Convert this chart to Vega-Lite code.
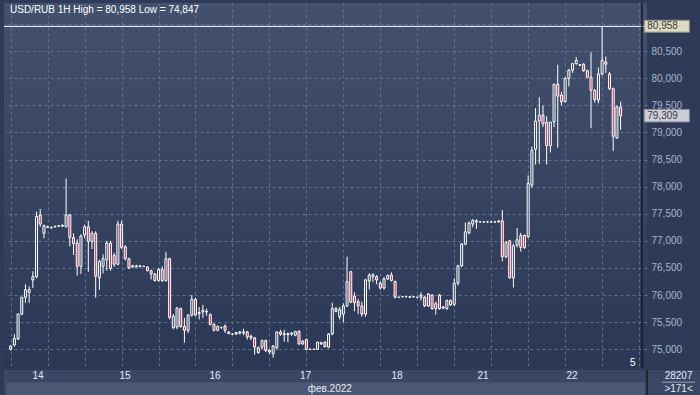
{
  "$schema": "https://vega.github.io/schema/vega-lite/v6.json",
  "background": "#2e3a57",
  "padding": {"left": 3, "top": 2, "right": 0, "bottom": 1},
  "config": {
    "concat": {"spacing": 0},
    "view": {"stroke": null},
    "font": "Liberation Sans, Arial",
    "text": {"font": "Liberation Sans, Arial"},
    "axis": {"labelFont": "Liberation Sans, Arial"},
    "axisX": {"values": [8.6, 31.77, 55.74, 79.84, 104.2, 127.1, 150.8], "labels": false, "ticks": false, "domain": false, "grid": true, "gridColor": "#617090", "gridDash": [3, 3], "gridWidth": 1, "gridOpacity": 1, "title": null},
    "axisY": {"values": [75, 75.5, 76, 76.5, 77, 77.5, 78, 78.5, 79, 79.5, 80, 80.5, 81], "labelOverlap": false, "labelBound": false, "labelFlush": false, "ticks": false, "domain": false, "labelPadding": 4, "labelAlign": "left", "labelBaseline": "middle", "labelColor": "#a6b5d0", "labelFontSize": 10, "grid": true, "gridColor": "#617090", "gridDash": [3, 3], "gridOpacity": 1, "title": null}
  },
  "resolve": {"scale": {"x": "independent"}},
  "datasets": {
    "candles": [
      {"i":0,"o":75.00,"h":75.08,"l":74.98,"c":75.06},
      {"i":1,"o":75.08,"h":75.28,"l":75.05,"c":75.20},
      {"i":2,"o":75.19,"h":75.66,"l":75.17,"c":75.65},
      {"i":3,"o":75.65,"h":75.97,"l":75.63,"c":75.96},
      {"i":4,"o":75.96,"h":76.20,"l":75.86,"c":76.10},
      {"i":5,"o":76.05,"h":76.16,"l":75.86,"c":76.10},
      {"i":6,"o":76.28,"h":76.44,"l":76.13,"c":76.34},
      {"i":7,"o":76.34,"h":77.54,"l":76.31,"c":77.45},
      {"i":8,"o":77.48,"h":77.59,"l":77.26,"c":77.31},
      {"i":9,"o":77.14,"h":77.30,"l":77.05,"c":77.28},
      {"i":10,"o":77.26,"h":77.28,"l":77.24,"c":77.25},
      {"i":11,"o":77.25,"h":77.26,"l":77.22,"c":77.25},
      {"i":12,"o":77.26,"h":77.28,"l":77.25,"c":77.27},
      {"i":13,"o":77.27,"h":77.29,"l":77.26,"c":77.28},
      {"i":14,"o":77.27,"h":77.30,"l":77.26,"c":77.29},
      {"i":15,"o":77.26,"h":78.15,"l":77.25,"c":77.48},
      {"i":16,"o":77.48,"h":77.50,"l":76.90,"c":77.06},
      {"i":17,"o":77.06,"h":77.14,"l":76.74,"c":76.95},
      {"i":18,"o":76.96,"h":77.03,"l":76.36,"c":76.53},
      {"i":19,"o":76.53,"h":77.12,"l":76.39,"c":77.09},
      {"i":20,"o":77.11,"h":77.30,"l":77.05,"c":77.26},
      {"i":21,"o":77.26,"h":77.37,"l":76.43,"c":76.99},
      {"i":22,"o":76.99,"h":77.18,"l":76.85,"c":77.14},
      {"i":23,"o":77.14,"h":77.18,"l":75.95,"c":76.35},
      {"i":24,"o":76.32,"h":76.65,"l":76.10,"c":76.62},
      {"i":25,"o":76.53,"h":76.75,"l":76.40,"c":76.67},
      {"i":26,"o":76.65,"h":77.00,"l":76.45,"c":76.96},
      {"i":27,"o":76.96,"h":77.00,"l":76.45,"c":76.49},
      {"i":28,"o":76.73,"h":76.78,"l":76.52,"c":76.57},
      {"i":29,"o":76.57,"h":77.37,"l":76.55,"c":77.31},
      {"i":30,"o":77.31,"h":77.37,"l":76.85,"c":76.88},
      {"i":31,"o":76.89,"h":76.92,"l":76.64,"c":76.67},
      {"i":32,"o":76.67,"h":76.69,"l":76.48,"c":76.50},
      {"i":33,"o":76.52,"h":76.56,"l":76.50,"c":76.54},
      {"i":34,"o":76.52,"h":76.56,"l":76.51,"c":76.54},
      {"i":35,"o":76.53,"h":76.55,"l":76.51,"c":76.54},
      {"i":36,"o":76.53,"h":76.54,"l":76.52,"c":76.53},
      {"i":37,"o":76.52,"h":76.53,"l":76.44,"c":76.45},
      {"i":38,"o":76.45,"h":76.47,"l":76.29,"c":76.39},
      {"i":39,"o":76.39,"h":76.41,"l":76.25,"c":76.27},
      {"i":40,"o":76.27,"h":76.50,"l":76.25,"c":76.47},
      {"i":41,"o":76.47,"h":76.53,"l":76.24,"c":76.27},
      {"i":42,"o":76.27,"h":76.80,"l":76.25,"c":76.67},
      {"i":43,"o":76.67,"h":76.69,"l":75.55,"c":75.59},
      {"i":44,"o":75.40,"h":75.65,"l":75.37,"c":75.61},
      {"i":45,"o":75.41,"h":75.78,"l":75.37,"c":75.76},
      {"i":46,"o":75.75,"h":75.77,"l":75.40,"c":75.42},
      {"i":47,"o":75.42,"h":75.58,"l":75.12,"c":75.35},
      {"i":48,"o":75.35,"h":75.65,"l":75.30,"c":75.63},
      {"i":49,"o":75.63,"h":76.00,"l":75.60,"c":75.92},
      {"i":50,"o":75.92,"h":75.95,"l":75.62,"c":75.63},
      {"i":51,"o":75.66,"h":75.78,"l":75.55,"c":75.68},
      {"i":52,"o":75.69,"h":75.82,"l":75.58,"c":75.72},
      {"i":53,"o":75.69,"h":75.75,"l":75.62,"c":75.70},
      {"i":54,"o":75.64,"h":75.66,"l":75.44,"c":75.46},
      {"i":55,"o":75.46,"h":75.48,"l":75.33,"c":75.35},
      {"i":56,"o":75.35,"h":75.44,"l":75.33,"c":75.42},
      {"i":57,"o":75.40,"h":75.42,"l":75.38,"c":75.40},
      {"i":58,"o":75.43,"h":75.46,"l":75.30,"c":75.35},
      {"i":59,"o":75.32,"h":75.33,"l":75.28,"c":75.29},
      {"i":60,"o":75.28,"h":75.29,"l":75.27,"c":75.28},
      {"i":61,"o":75.28,"h":75.32,"l":75.27,"c":75.31},
      {"i":62,"o":75.30,"h":75.34,"l":75.27,"c":75.32},
      {"i":63,"o":75.30,"h":75.38,"l":75.26,"c":75.32},
      {"i":64,"o":75.32,"h":75.34,"l":75.18,"c":75.23},
      {"i":65,"o":75.24,"h":75.27,"l":75.17,"c":75.21},
      {"i":66,"o":75.21,"h":75.23,"l":74.90,"c":75.04},
      {"i":67,"o":75.03,"h":75.05,"l":74.92,"c":74.94},
      {"i":68,"o":75.04,"h":75.18,"l":75.00,"c":75.16},
      {"i":69,"o":75.16,"h":75.18,"l":74.95,"c":74.98},
      {"i":70,"o":74.98,"h":75.00,"l":74.91,"c":74.95},
      {"i":71,"o":74.92,"h":75.08,"l":74.847,"c":75.06},
      {"i":72,"o":75.03,"h":75.33,"l":74.99,"c":75.32},
      {"i":73,"o":75.32,"h":75.36,"l":75.25,"c":75.28},
      {"i":74,"o":75.27,"h":75.36,"l":75.14,"c":75.29},
      {"i":75,"o":75.27,"h":75.31,"l":75.13,"c":75.29},
      {"i":76,"o":75.28,"h":75.32,"l":75.25,"c":75.30},
      {"i":77,"o":75.26,"h":75.34,"l":75.24,"c":75.33},
      {"i":78,"o":75.33,"h":75.35,"l":75.08,"c":75.10},
      {"i":79,"o":75.10,"h":75.17,"l":75.08,"c":75.15},
      {"i":80,"o":75.18,"h":75.20,"l":74.98,"c":75.00},
      {"i":81,"o":75.00,"h":75.01,"l":74.99,"c":75.00},
      {"i":82,"o":75.00,"h":75.01,"l":74.99,"c":75.00},
      {"i":83,"o":75.00,"h":75.14,"l":74.99,"c":75.13},
      {"i":84,"o":75.10,"h":75.14,"l":75.08,"c":75.12},
      {"i":85,"o":75.13,"h":75.15,"l":75.03,"c":75.05},
      {"i":86,"o":75.04,"h":75.30,"l":75.02,"c":75.28},
      {"i":87,"o":75.28,"h":75.86,"l":75.26,"c":75.75},
      {"i":88,"o":75.75,"h":75.78,"l":75.68,"c":75.70},
      {"i":89,"o":75.60,"h":75.78,"l":75.55,"c":75.73},
      {"i":90,"o":75.65,"h":75.85,"l":75.50,"c":75.80},
      {"i":91,"o":75.80,"h":76.71,"l":75.78,"c":76.25},
      {"i":92,"o":76.43,"h":76.45,"l":75.85,"c":75.87},
      {"i":93,"o":75.98,"h":76.05,"l":75.70,"c":75.86},
      {"i":94,"o":75.88,"h":75.93,"l":75.65,"c":75.80},
      {"i":95,"o":75.80,"h":75.88,"l":75.60,"c":75.65},
      {"i":96,"o":75.65,"h":76.30,"l":75.60,"c":76.28},
      {"i":97,"o":76.26,"h":76.40,"l":76.10,"c":76.37},
      {"i":98,"o":76.34,"h":76.40,"l":76.24,"c":76.38},
      {"i":99,"o":76.34,"h":76.37,"l":76.20,"c":76.28},
      {"i":100,"o":76.22,"h":76.25,"l":76.10,"c":76.13},
      {"i":101,"o":76.13,"h":76.33,"l":76.10,"c":76.30},
      {"i":102,"o":76.30,"h":76.38,"l":76.28,"c":76.36},
      {"i":103,"o":76.37,"h":76.42,"l":76.25,"c":76.27},
      {"i":104,"o":76.25,"h":76.27,"l":75.94,"c":75.96},
      {"i":105,"o":75.96,"h":75.97,"l":75.95,"c":75.96},
      {"i":106,"o":75.97,"h":75.98,"l":75.96,"c":75.97},
      {"i":107,"o":75.97,"h":75.98,"l":75.96,"c":75.97},
      {"i":108,"o":75.96,"h":75.98,"l":75.95,"c":75.97},
      {"i":109,"o":75.97,"h":75.98,"l":75.96,"c":75.97},
      {"i":110,"o":75.96,"h":75.97,"l":75.95,"c":75.96},
      {"i":111,"o":75.96,"h":76.05,"l":75.90,"c":76.00},
      {"i":112,"o":75.96,"h":75.98,"l":75.78,"c":75.80},
      {"i":113,"o":75.80,"h":76.04,"l":75.78,"c":76.02},
      {"i":114,"o":76.00,"h":76.02,"l":75.73,"c":75.75},
      {"i":115,"o":75.75,"h":75.88,"l":75.64,"c":75.84},
      {"i":116,"o":76.00,"h":76.02,"l":75.73,"c":75.75},
      {"i":117,"o":75.76,"h":75.80,"l":75.74,"c":75.78},
      {"i":118,"o":75.75,"h":75.92,"l":75.73,"c":75.90},
      {"i":119,"o":75.90,"h":75.92,"l":75.80,"c":75.82},
      {"i":120,"o":75.83,"h":76.31,"l":75.80,"c":76.22},
      {"i":121,"o":76.22,"h":76.56,"l":76.18,"c":76.54},
      {"i":122,"o":76.54,"h":76.96,"l":76.52,"c":76.94},
      {"i":123,"o":76.94,"h":77.34,"l":76.92,"c":77.17},
      {"i":124,"o":77.15,"h":77.36,"l":77.12,"c":77.33},
      {"i":125,"o":77.31,"h":77.40,"l":77.25,"c":77.38},
      {"i":126,"o":77.35,"h":77.40,"l":77.22,"c":77.37},
      {"i":127,"o":77.35,"h":77.36,"l":77.34,"c":77.35},
      {"i":128,"o":77.35,"h":77.36,"l":77.34,"c":77.35},
      {"i":129,"o":77.35,"h":77.36,"l":77.34,"c":77.35},
      {"i":130,"o":77.35,"h":77.36,"l":77.34,"c":77.35},
      {"i":131,"o":77.35,"h":77.36,"l":77.34,"c":77.35},
      {"i":132,"o":77.35,"h":77.38,"l":77.34,"c":77.37},
      {"i":133,"o":77.37,"h":77.57,"l":76.62,"c":76.71},
      {"i":134,"o":76.71,"h":77.00,"l":76.68,"c":76.97},
      {"i":135,"o":77.00,"h":77.02,"l":76.30,"c":76.32},
      {"i":136,"o":76.32,"h":76.95,"l":76.14,"c":76.91},
      {"i":137,"o":76.92,"h":77.24,"l":76.88,"c":77.02},
      {"i":138,"o":77.10,"h":77.15,"l":76.80,"c":76.88},
      {"i":139,"o":77.10,"h":77.12,"l":76.85,"c":76.88},
      {"i":140,"o":77.08,"h":78.21,"l":77.05,"c":78.06},
      {"i":141,"o":78.03,"h":78.74,"l":77.98,"c":78.67},
      {"i":142,"o":78.69,"h":79.45,"l":78.41,"c":79.21},
      {"i":143,"o":79.21,"h":79.65,"l":78.42,"c":79.32},
      {"i":144,"o":79.32,"h":79.50,"l":79.10,"c":79.16},
      {"i":145,"o":79.19,"h":79.30,"l":78.41,"c":78.76},
      {"i":146,"o":78.76,"h":79.20,"l":78.63,"c":79.19},
      {"i":147,"o":79.20,"h":79.90,"l":79.10,"c":79.89},
      {"i":148,"o":79.89,"h":80.25,"l":78.72,"c":79.67},
      {"i":149,"o":79.69,"h":79.75,"l":79.50,"c":79.57},
      {"i":150,"o":79.57,"h":80.02,"l":79.55,"c":80.00},
      {"i":151,"o":80.00,"h":80.17,"l":79.85,"c":80.15},
      {"i":152,"o":80.15,"h":80.28,"l":80.10,"c":80.27},
      {"i":153,"o":80.27,"h":80.39,"l":80.25,"c":80.33},
      {"i":154,"o":80.25,"h":80.26,"l":80.23,"c":80.24},
      {"i":155,"o":80.26,"h":80.28,"l":80.12,"c":80.14},
      {"i":156,"o":80.14,"h":80.16,"l":80.00,"c":80.02},
      {"i":157,"o":80.02,"h":80.48,"l":79.08,"c":79.78},
      {"i":158,"o":79.78,"h":79.80,"l":79.55,"c":79.61},
      {"i":159,"o":79.60,"h":80.20,"l":79.54,"c":80.08},
      {"i":160,"o":80.08,"h":80.958,"l":80.05,"c":80.33},
      {"i":161,"o":80.30,"h":80.40,"l":80.10,"c":80.26},
      {"i":162,"o":80.08,"h":80.12,"l":79.78,"c":79.81},
      {"i":163,"o":79.81,"h":79.83,"l":78.66,"c":78.93},
      {"i":164,"o":78.90,"h":79.50,"l":78.88,"c":79.47},
      {"i":165,"o":79.47,"h":79.57,"l":79.05,"c":79.309}
    ],
    "days": [
      {"i":8.6,"d":"14"},{"i":31.77,"d":"15"},{"i":55.74,"d":"16"},{"i":79.84,"d":"17"},
      {"i":104.2,"d":"18"},{"i":127.1,"d":"21"},{"i":150.8,"d":"22"}
    ]
  },
  "vconcat": [
    {
      "width": 643,
      "height": 365,
      "view": {"stroke": null, "fill": {"gradient": "linear", "x1": 0, "y1": 0, "x2": 0, "y2": 1, "stops": [{"offset": 0, "color": "#44516e"}, {"offset": 1, "color": "#2a3755"}]}},
      "layer": [
        {
          "data": {"name": "candles"},
          "mark": {"type": "rule", "color": "#ffffff", "strokeWidth": 1},
          "encoding": {
            "x": {"field": "i", "type": "quantitative", "scale": {"domain": [-0.453, 170.79], "nice": false, "zero": false}},
            "y": {"field": "l", "type": "quantitative", "scale": {"domain": [74.655, 81.389], "nice": false, "zero": false},
              "axis": {"orient": "right", "labelExpr": "datum.value >= 81 ? '' : replace(format(datum.value, '.3f'), '.', ',')"}},
            "y2": {"field": "h"}
          }
        },
        {
          "data": {"name": "candles"},
          "mark": {"type": "bar", "width": 2, "stroke": "#ffffff", "strokeWidth": 1},
          "encoding": {
            "x": {"field": "i", "type": "quantitative"},
            "y": {"field": "o", "type": "quantitative", "axis": {"orient": "right", "labelExpr": "datum.value >= 81 ? '' : replace(format(datum.value, '.3f'), '.', ',')"}},
            "y2": {"field": "c"},
            "fill": {"condition": {"test": "datum.c < datum.o", "value": "#c3324e"}, "value": "#35425f"}
          }
        },
        {
          "data": {"values": [{}]},
          "mark": {"type": "rule", "color": "#ffffff", "strokeWidth": 1},
          "encoding": {"y": {"datum": 80.958, "type": "quantitative", "axis": {"orient": "right", "labelExpr": "datum.value >= 81 ? '' : replace(format(datum.value, '.3f'), '.', ',')"}}}
        },
        {
          "data": {"values": [{}]},
          "mark": {"type": "rule", "color": "#141b2b", "strokeWidth": 1.5},
          "encoding": {"x": {"datum": 170.79, "type": "quantitative"}}
        },
        {
          "data": {"values": [{"t": "USD/RUB 1H High = 80,958 Low = 74,847"}]},
          "mark": {"type": "text", "align": "left", "baseline": "top", "dx": 1, "dy": 2, "color": "#ffffff", "fontSize": 10},
          "encoding": {"x": {"datum": -0.453, "type": "quantitative"}, "y": {"datum": 81.389, "type": "quantitative", "axis": {"orient": "right", "labelExpr": "datum.value >= 81 ? '' : replace(format(datum.value, '.3f'), '.', ',')"}}, "text": {"field": "t"}}
        },
        {
          "data": {"values": [{}]},
          "mark": {"type": "rect", "fill": "#dcdcc2", "stroke": "#8e8e80", "strokeWidth": 1},
          "encoding": {"x": {"datum": 171.4, "type": "quantitative"}, "x2": {"datum": 183.6}, "y": {"datum": 80.85, "type": "quantitative", "axis": {"orient": "right", "labelExpr": "datum.value >= 81 ? '' : replace(format(datum.value, '.3f'), '.', ',')"}}, "y2": {"datum": 81.07}}
        },
        {
          "data": {"values": [{}]},
          "mark": {"type": "rect", "fill": "#c9ced8", "stroke": "#8a909c", "strokeWidth": 1},
          "encoding": {"x": {"datum": 171.4, "type": "quantitative"}, "x2": {"datum": 183.6}, "y": {"datum": 79.195, "type": "quantitative", "axis": {"orient": "right", "labelExpr": "datum.value >= 81 ? '' : replace(format(datum.value, '.3f'), '.', ',')"}}, "y2": {"datum": 79.425}}
        },
        {
          "data": {"values": [{"p": 80.958, "t": "80,958"}, {"p": 79.309, "t": "79,309"}]},
          "mark": {"type": "text", "align": "left", "baseline": "middle", "dx": 3, "color": "#3a3a3a", "fontSize": 10},
          "encoding": {"x": {"datum": 171.4, "type": "quantitative"}, "y": {"field": "p", "type": "quantitative", "axis": {"orient": "right", "labelExpr": "datum.value >= 81 ? '' : replace(format(datum.value, '.3f'), '.', ',')"}}, "text": {"field": "t"}}
        },
        {
          "data": {"values": [{"t": "5"}]},
          "mark": {"type": "text", "align": "center", "baseline": "middle", "color": "#ffffff", "fontSize": 10},
          "encoding": {"x": {"datum": 168.3, "type": "quantitative"}, "y": {"datum": 74.75, "type": "quantitative", "axis": {"orient": "right", "labelExpr": "datum.value >= 81 ? '' : replace(format(datum.value, '.3f'), '.', ',')"}}, "text": {"field": "t"}}
        }
      ]
    },
    {
      "width": 697,
      "height": 27,
      "view": {"stroke": null, "fill": "#3a4764"},
      "layer": [
        {
          "data": {"values": [{}]},
          "mark": {"type": "rect", "color": "#4b5773"},
          "encoding": {
            "x": {"datum": 0.1, "type": "quantitative", "scale": {"domain": [-0.453, 185.17], "nice": false, "zero": false}, "axis": null},
            "x2": {"datum": 170.3},
            "y": {"datum": 0.07, "type": "quantitative", "scale": {"domain": [0, 1], "nice": false}, "axis": null},
            "y2": {"datum": 0.55}
          }
        },
        {
          "data": {"values": [{}]},
          "mark": {"type": "rule", "color": "#141b2b", "strokeWidth": 1.5},
          "encoding": {"x": {"datum": 170.79, "type": "quantitative", "axis": null}}
        },
        {
          "data": {"values": [{}]},
          "mark": {"type": "rule", "color": "#9aa4b8", "strokeWidth": 1},
          "encoding": {"x": {"datum": 174.8, "type": "quantitative", "axis": null}, "x2": {"datum": 183.6}, "y": {"datum": 0.55, "type": "quantitative", "axis": null}}
        },
        {
          "data": {"name": "days"},
          "mark": {"type": "text", "align": "center", "baseline": "middle", "color": "#e6eaf2", "fontSize": 10},
          "encoding": {"x": {"field": "i", "type": "quantitative", "axis": null}, "y": {"datum": 0.76, "type": "quantitative", "axis": null}, "text": {"field": "d"}}
        },
        {
          "data": {"values": [{"t": "фев.2022", "i": 86.3}]},
          "mark": {"type": "text", "align": "center", "baseline": "middle", "color": "#e6eaf2", "fontSize": 10},
          "encoding": {"x": {"field": "i", "type": "quantitative", "axis": null}, "y": {"datum": 0.31, "type": "quantitative", "axis": null}, "text": {"field": "t"}}
        },
        {
          "data": {"values": [{"t": "28207", "r": 0.76}, {"t": ">171<", "r": 0.31}]},
          "mark": {"type": "text", "align": "center", "baseline": "middle", "color": "#e6eaf2", "fontSize": 10},
          "encoding": {"x": {"datum": 179.2, "type": "quantitative", "axis": null}, "y": {"field": "r", "type": "quantitative", "axis": null}, "text": {"field": "t"}}
        }
      ]
    }
  ]
}
